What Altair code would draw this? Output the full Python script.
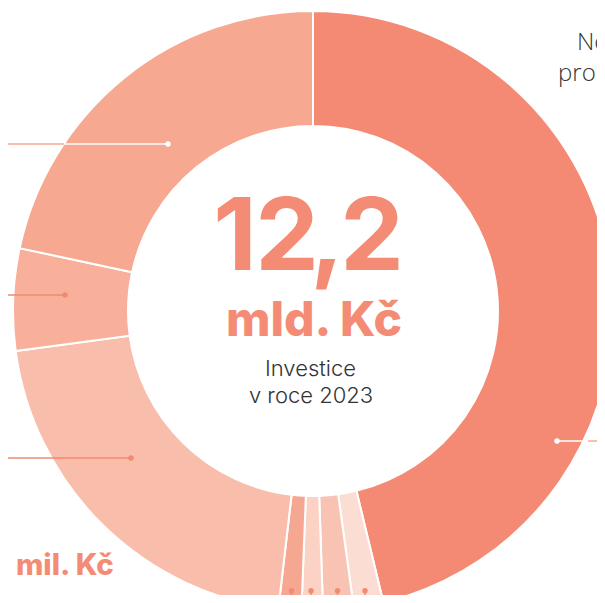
import altair as alt
import pandas as pd

OFF = 8  # page margin

# ---- donut data (mil. Kč), clockwise from 12 o'clock ----
slice_order = [0, 1, 2, 3, 4, 5, 6, 7]
slice_values = [5640, 195, 200, 140, 150, 2565, 670, 2640]
slice_colors = ["#F48A74", "#FCDDD3", "#F9C3B3", "#FCD2C5",
                "#F6A792", "#F9BDAB", "#F8B09B", "#F6A890"]

# ---- centre texts ----
total_text = "12,2"
unit_text = "mld. Kč"
caption_lines = ["Investice", "v roce 2023"]

CX, CY = 313, 311
R_OUT, R_IN = 300, 185

df = pd.DataFrame({"i": slice_order, "v": slice_values, "c": slice_colors})

donut = alt.Chart(df).mark_arc(
    radius=R_OUT, radius2=R_IN, stroke="white", strokeWidth=2
).encode(
    theta=alt.Theta("v:Q", stack=True),
    order=alt.Order("i:Q"),
    color=alt.Color("c:N", scale=None),
    x=alt.value(CX - OFF),
    y=alt.value(CY - OFF),
)

# ---- leader lines (annotation geometry, page px) ----
h_x1 = [0, 64, 0, 0, 557, 588]
h_x2 = [64, 168, 65, 131, 588, 605]
h_y = [144, 144, 295, 458, 441, 441]
h_col = ["#F6A890", "#FFFFFF", "#F28A72", "#F28A72", "#FFFFFF", "#F7A995"]
hdf = pd.DataFrame({"x": [v - OFF for v in h_x1], "x2": [v - OFF for v in h_x2],
                    "y": [v - OFF for v in h_y], "c": h_col})
hrules = alt.Chart(hdf).mark_rule(strokeWidth=1.5).encode(
    x=alt.X("x:Q", scale=None), x2="x2:Q",
    y=alt.Y("y:Q", scale=None),
    color=alt.Color("c:N", scale=None),
)

v_x = [291.5, 311, 337.5, 365]
vdf = pd.DataFrame({"x": [v - OFF for v in v_x], "y": [590.7 - OFF] * 4, "y2": [610 - OFF] * 4})
vrules = alt.Chart(vdf).mark_rule(strokeWidth=1.5, color="#F28A72").encode(
    x=alt.X("x:Q", scale=None), y=alt.Y("y:Q", scale=None), y2="y2:Q",
)

d_x = [168, 65, 131, 557, 291.5, 311, 337.5, 365]
d_y = [144, 295, 458, 441, 590.7, 590.7, 590.7, 590.7]
d_col = ["#FFFFFF", "#F28A72", "#F28A72", "#FFFFFF", "#F28A72", "#F28A72", "#F28A72", "#F28A72"]
ddf = pd.DataFrame({"x": [v - OFF for v in d_x], "y": [v - OFF for v in d_y], "c": d_col})
dots = alt.Chart(ddf).mark_circle(size=30, opacity=1).encode(
    x=alt.X("x:Q", scale=None), y=alt.Y("y:Q", scale=None),
    color=alt.Color("c:N", scale=None),
)


def label(txt, x, y, size, weight, color, align="center", font="Inter"):
    return alt.Chart(pd.DataFrame({"t": [txt]})).mark_text(
        fontSize=size, fontWeight=weight, color=color, align=align,
        baseline="alphabetic", font=font,
    ).encode(text="t:N", x=alt.value(x - OFF), y=alt.value(y - OFF))


# tight letter spacing of the big total: one glyph per mark
char_centres = [235, 287, 327, 372]
big = [label(ch, cx, 270, 101, 700, "#F48B74") for ch, cx in zip(total_text, char_centres)]

texts = big + [
    label(unit_text, 314, 336, 48, 800, "#F48B74"),
    label(caption_lines[0], 310.5, 376, 22, 300, "#333333"),
    label(caption_lines[1], 311, 403, 22, 300, "#333333"),
    label("5", 9, 583, 72, 800, "#F48B74", align="right"),
    label("mil. Kč", 16, 575, 29.5, 800, "#F48B74", align="left"),
    label("ZZNÝ ELE", 508, 5, 20, 700, "#1a1a1a", align="left"),
    label("Nové", 577, 50, 24, 300, "#333333", align="left", font="Open Sans"),
    label("pro klienty", 558, 81, 24, 300, "#333333", align="left", font="Open Sans"),
]

chart = alt.layer(donut, hrules, vrules, dots, *texts).properties(
    width=589, height=587, padding=0, autosize=alt.AutoSizeParams(type="none"),
    background="white",
).configure_view(stroke=None)

chart.save("out.html", embed_options={"renderer": "svg", "actions": False})
